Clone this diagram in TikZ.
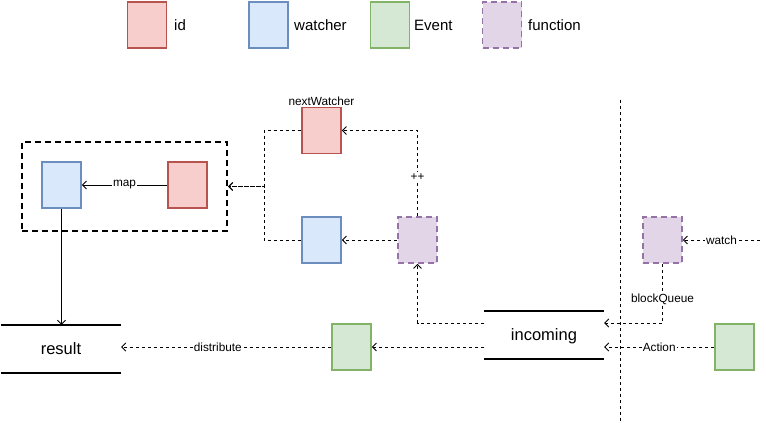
\documentclass[tikz,border=0pt]{standalone}
\usepackage{fontspec}
\setmainfont{Liberation Sans}
\usetikzlibrary{arrows.meta}
\definecolor{redF}{HTML}{F8CECC}\definecolor{redD}{HTML}{B85450}
\definecolor{bluF}{HTML}{DAE8FC}\definecolor{bluD}{HTML}{6C8EBF}
\definecolor{grnF}{HTML}{D5E8D4}\definecolor{grnD}{HTML}{82B366}
\definecolor{purF}{HTML}{E1D5E7}\definecolor{purD}{HTML}{9673A6}
\begin{document}
\begin{tikzpicture}[x=1pt,y=-1pt,
  box/.style={minimum width=39pt,minimum height=46pt,line width=1.7pt,inner sep=0pt},
  idbox/.style={box,draw=redD,fill=redF},
  wbox/.style={box,draw=bluD,fill=bluF},
  evbox/.style={box,draw=grnD,fill=grnF},
  fnbox/.style={box,draw=purD,fill=purF,dash pattern=on 6pt off 4pt},
  conn/.style={line width=0.9pt,-{Straight Barb[length=4pt,width=8pt]}},
  dconn/.style={conn,dash pattern=on 3pt off 3pt},
  lbl/.style={font=\fontsize{11.8}{13}\selectfont,fill=white,inner sep=1pt},
  legtxt/.style={font=\fontsize{15}{17}\selectfont,anchor=west,inner sep=0pt},
  sect/.style={minimum width=120pt,minimum height=48pt,inner sep=0pt,text depth=0pt,font=\fontsize{16.5}{19}\selectfont},
  sectline/.style={line width=2pt}]
\useasboundingbox (0,0) rectangle (766,423);
% legend
\node[idbox] (lid) at (147,25) {};
\node[legtxt] (tid) at (174,25) {id};
\node[wbox] (lw) at (268.5,25) {};
\node[legtxt] (tw) at (294,25) {watcher};
\node[evbox] (le) at (390,25) {};
\node[legtxt] (te) at (414,25) {Event};
\node[fnbox] (lf) at (502,25) {};
\node[legtxt] (tf) at (528,25) {function};
% container
\node[draw,line width=2pt,dash pattern=on 6pt off 4pt,minimum width=205pt,minimum height=89pt] (cont) at (124.5,186.5) {};
\node[wbox] (ib) at (61.5,185) {};
\node[idbox] (ir) at (187.5,185) {};
% right group
\node[idbox,label={[font=\fontsize{11.8}{13}\selectfont,inner sep=1pt]above:nextWatcher}] (nw) at (321.5,130.5) {};
\node[wbox] (wb) at (321.5,240) {};
\node[fnbox] (fm) at (417.5,240) {};
\node[fnbox] (fr) at (662.5,240) {};
\node[evbox] (eg) at (351.5,347) {};
\node[evbox] (er) at (734.5,347) {};
% sections
\node[sect] (inc) at (544,335) {incoming};
\draw[sectline] (inc.north west) -- (inc.north east) (inc.south west) -- (inc.south east);
\node[sect] (res) at (61,349) {result};
\draw[sectline] (res.north west) -- (res.north east) (res.south west) -- (res.south east);
% divider
\coordinate (vt) at (620,100);
\coordinate (vb) at (620,423);
\draw[line width=0.9pt,dash pattern=on 3pt off 3pt] (vt) -- (vb);
\coordinate (ws) at (760,240);
% connectors
\draw[conn] (ir) -- node[lbl]{map} (ib);
\draw[conn] (ib.south) -- (ib.south |- res.north);
\draw[dconn] (nw.west) -- ++(-37,0) |- (cont.east);
\draw[dconn] (wb.west) -- ++(-37,0) |- (cont.east);
\draw[dconn] (fm) -- (wb);
\draw[dconn] (fm.north) |- node[lbl,pos=0.23]{++} (nw.east);
\draw[dconn] ([yshift=12pt]inc.west) -| (fm.south);
\draw[dconn] (fr.south) |- node[lbl,pos=0.3]{blockQueue} ([yshift=12pt]inc.east);
\draw[dconn] (er.west) -- node[lbl]{Action} ([yshift=-12pt]inc.east);
\draw[dconn] ([yshift=-12pt]inc.west) -- (eg.east);
\draw[dconn] (eg.west) -- node[lbl,pos=0.54]{distribute} (res.east |- eg.west);
\draw[dconn] (ws) -- node[lbl]{watch} (fr.east);
\end{tikzpicture}
\end{document}
